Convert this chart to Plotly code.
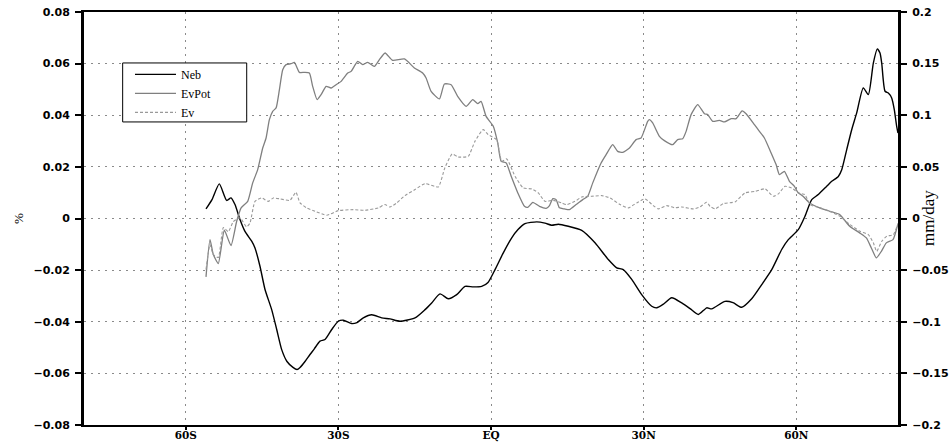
import plotly.graph_objects as go

# ---- data (latitude in degrees, negative = south) ----
neb_lat = [-56.02, -54.84, -53.41, -51.95, -51.11, -50.32, -49.34, -48.36, -47.04, -46.39,
           -45.41, -44.42, -43.11, -42.12, -41.14, -40.1, -38.92, -38.13, -37.54, -36.56,
           -35.58, -34.73, -33.61, -32.63, -31.31, -30.01, -29.03, -27.38, -26.34, -25.1,
           -23.45, -21.48, -19.85, -17.89, -14.94, -12.97, -11.66, -10.02, -8.39, -6.74,
           -5.11, -3.48, -1.83, -0.59, 0.79, 2.42, 4.07, 5.31, 6.68, 8.98,
           10.61, 11.93, 13.23, 15.19, 17.83, 20.44, 23.06, 24.71, 26.0, 27.66,
           29.62, 31.59, 32.57, 33.81, 35.52, 37.49, 39.12, 40.75, 42.4, 43.38,
           46.0, 47.57, 49.28, 51.24, 53.21, 55.18, 57.14, 58.44, 60.4, 61.72,
           63.04, 64.33, 65.99, 66.97, 68.27, 68.94, 69.92, 70.9, 71.88, 73.18,
           74.17, 75.15, 75.93, 76.46, 76.8, 77.45, 78.1, 78.76, 79.27, 79.74, 80.0]
neb_val = [0.0037, 0.0073, 0.0134, 0.0070, 0.0080, 0.0054, -0.0004, -0.0050, -0.0088, -0.0114,
           -0.0185, -0.0275, -0.0353, -0.0430, -0.0508, -0.0554, -0.0577, -0.0585, -0.0577, -0.0554,
           -0.0527, -0.0505, -0.0475, -0.0469, -0.0430, -0.0398, -0.0394, -0.0407, -0.0403, -0.0385,
           -0.0373, -0.0385, -0.0389, -0.0398, -0.0385, -0.0353, -0.0327, -0.0292, -0.0311, -0.0295,
           -0.0263, -0.0265, -0.0263, -0.0248, -0.0198, -0.0133, -0.0075, -0.0043, -0.0020, -0.0013,
           -0.0018, -0.0026, -0.0022, -0.0030, -0.0046, -0.0094, -0.0159, -0.0191, -0.0198, -0.0236,
           -0.0295, -0.0340, -0.0346, -0.0333, -0.0307, -0.0327, -0.0349, -0.0372, -0.0346, -0.0350,
           -0.0321, -0.0326, -0.0344, -0.0311, -0.0256, -0.0198, -0.0120, -0.0082, -0.0043, 0.0009,
           0.0073, 0.0093, 0.0125, 0.0144, 0.0163, 0.0189, 0.0267, 0.0344, 0.0409, 0.0506,
           0.0480, 0.0602, 0.0657, 0.0641, 0.0602, 0.0493, 0.0486, 0.0467, 0.0422, 0.0357, 0.0331]

evpot_lat = [-56.02, -55.23, -54.58, -53.6, -52.42, -51.11, -49.99, -49.12, -47.82, -46.84,
             -45.86, -44.87, -44.21, -43.56, -42.91, -42.24, -41.59, -40.94, -40.28, -39.29,
             -38.64, -37.66, -36.68, -35.7, -35.05, -34.18, -33.4, -32.41, -31.43, -30.45,
             -29.47, -28.17, -27.5, -26.2, -25.22, -24.24, -22.92, -21.94, -20.82, -19.32,
             -17.02, -15.06, -13.43, -12.76, -11.77, -10.14, -9.16, -7.84, -6.55, -4.89,
             -3.6, -2.61, -1.95, -0.96, 0.45, 1.32, 2.0, 2.99, 3.97, 5.27,
             6.58, 7.23, 8.22, 9.53, 10.85, 11.5, 12.15, 12.8, 13.45, 14.43,
             15.41, 16.73, 18.03, 19.01, 20.0, 21.64, 22.63, 23.92, 24.9, 25.89,
             27.22, 28.52, 29.5, 30.8, 31.14, 31.78, 33.1, 34.08, 35.71, 36.7,
             37.68, 38.35, 39.33, 40.63, 41.95, 42.6, 43.58, 44.89, 45.88, 47.2,
             48.18, 49.36, 50.14, 51.78, 52.76, 53.74, 55.06, 56.04, 56.69, 57.67,
             58.66, 59.64, 60.29, 61.33, 62.64, 64.6, 66.57, 68.53, 70.5, 72.46,
             73.78, 74.76, 75.74, 76.73, 77.71, 79.01, 80.0]
evpot_val = [-0.0565, -0.0204, -0.0349, -0.0436, -0.0114, -0.0262, -0.0027, 0.0103, 0.0166, 0.0345,
             0.0473, 0.0683, 0.0780, 0.0957, 0.1038, 0.1071, 0.1248, 0.1441, 0.1490, 0.1499,
             0.1512, 0.1415, 0.1415, 0.1409, 0.1280, 0.1151, 0.1199, 0.1280, 0.1264, 0.1296,
             0.1328, 0.1409, 0.1425, 0.1522, 0.1490, 0.1512, 0.1473, 0.1538, 0.1603, 0.1531,
             0.1545, 0.1458, 0.1409, 0.1361, 0.1231, 0.1158, 0.1303, 0.1296, 0.1183, 0.1086,
             0.1151, 0.1112, 0.1135, 0.0989, 0.0893, 0.0732, 0.0554, 0.0538, 0.0409, 0.0248,
             0.0118, 0.0108, 0.0157, 0.0118, 0.0099, 0.0125, 0.0193, 0.0183, 0.0103, 0.0093,
             0.0086, 0.0135, 0.0183, 0.0215, 0.0345, 0.0538, 0.0619, 0.0716, 0.0650, 0.0641,
             0.0683, 0.0764, 0.0780, 0.0941, 0.0957, 0.0925, 0.0796, 0.0754, 0.0715, 0.0764,
             0.0773, 0.0844, 0.1006, 0.1103, 0.1015, 0.1006, 0.0941, 0.0951, 0.0935, 0.0967,
             0.0967, 0.1042, 0.1015, 0.0909, 0.0844, 0.0780, 0.0635, 0.0522, 0.0425, 0.0457,
             0.0360, 0.0312, 0.0254, 0.0215, 0.0151, 0.0103, 0.0070, 0.0038, -0.0075, -0.0139,
             -0.0188, -0.0285, -0.0381, -0.0318, -0.0236, -0.0204, -0.0049]

ev_lat = [-56.02, -55.23, -54.58, -53.6, -52.61, -51.63, -50.65, -49.34, -48.03, -47.37,
          -46.39, -45.08, -43.78, -42.79, -41.49, -39.52, -38.34, -37.54, -36.23, -34.59,
          -32.29, -30.01, -27.07, -24.77, -22.15, -20.85, -19.85, -18.53, -16.9, -14.94,
          -12.97, -10.36, -9.08, -7.63, -6.45, -4.48, -3.16, -1.53, -0.55, 1.1,
          2.1, 3.09, 4.72, 6.35, 8.0, 9.3, 10.61, 12.24, 13.89, 14.88,
          16.51, 17.83, 19.79, 21.76, 23.39, 25.36, 26.99, 28.64, 30.27, 31.9,
          32.89, 34.54, 36.17, 37.49, 39.77, 41.08, 42.4, 43.05, 44.03, 45.67,
          47.97, 49.93, 51.9, 53.86, 55.49, 56.48, 57.79, 59.11, 60.41, 61.72,
          62.7, 64.67, 66.63, 68.6, 70.57, 72.53, 74.17, 75.15, 75.82, 76.8,
          77.79, 79.09, 80.0]
ev_val = [-0.0495, -0.0253, -0.0350, -0.0378, -0.0088, -0.0127, -0.0030, 0.0006, -0.0081, -0.0043,
          0.0166, 0.0199, 0.0166, 0.0199, 0.0190, 0.0176, 0.0254, 0.0151, 0.0103, 0.0070,
          0.0031, 0.0076, 0.0086, 0.0079, 0.0103, 0.0135, 0.0112, 0.0151, 0.0222, 0.0280,
          0.0338, 0.0306, 0.0490, 0.0625, 0.0596, 0.0602, 0.0747, 0.0861, 0.0812, 0.0764,
          0.0554, 0.0577, 0.0409, 0.0296, 0.0287, 0.0248, 0.0166, 0.0176, 0.0151, 0.0135,
          0.0166, 0.0209, 0.0215, 0.0222, 0.0199, 0.0135, 0.0103, 0.0151, 0.0190, 0.0125,
          0.0093, 0.0125, 0.0103, 0.0112, 0.0093, 0.0112, 0.0157, 0.0118, 0.0093, 0.0144,
          0.0161, 0.0248, 0.0263, 0.0287, 0.0215, 0.0238, 0.0312, 0.0296, 0.0248, 0.0231,
          0.0135, 0.0103, 0.0070, 0.0021, -0.0059, -0.0124, -0.0156, -0.0236, -0.0318, -0.0221,
          -0.0172, -0.0156, -0.0049]

x_tick_vals = [-60, -30, 0, 30, 60]
x_tick_text = ["60S", "30S", "EQ", "30N", "60N"]
left_ticks = [-0.08, -0.06, -0.04, -0.02, 0, 0.02, 0.04, 0.06, 0.08]
right_ticks = [-0.2, -0.15, -0.1, -0.05, 0, 0.05, 0.1, 0.15, 0.2]

GRID = "#8a8a8a"
TICKFONT = dict(family="DejaVu Sans", size=11, color="black", weight="bold")

fig = go.Figure()
fig.add_trace(go.Scatter(x=neb_lat, y=neb_val, name="Neb", mode="lines",
                         line=dict(color="black", width=1.4, shape="spline", smoothing=0.6),
                         yaxis="y"))
fig.add_trace(go.Scatter(x=evpot_lat, y=evpot_val, name="EvPot", mode="lines",
                         line=dict(color="#7f7f7f", width=1.3, shape="spline", smoothing=0.5),
                         yaxis="y2"))
fig.add_trace(go.Scatter(x=ev_lat, y=ev_val, name="Ev", mode="lines",
                         line=dict(color="#999999", width=1.1, dash="3px,2px", shape="spline", smoothing=0.5),
                         yaxis="y2"))

fig.update_layout(
    width=950, height=442,
    margin=dict(l=84, r=52, t=12, b=17, autoexpand=False),
    plot_bgcolor="white", paper_bgcolor="white",
    showlegend=True,
    legend=dict(x=0.0565, y=0.884, xanchor="left", yanchor="top",
                bgcolor="rgba(0,0,0,0)", borderwidth=0,
                itemwidth=41, tracegroupgap=0,
                font=dict(family="Liberation Serif", size=12, color="black")),
    # white framed box behind the legend
    shapes=[dict(type="rect", xref="paper", yref="paper",
                 x0=0.0475, x1=0.1999, y0=0.7338, y1=0.8766,
                 fillcolor="white", line=dict(color="black", width=1), layer="above")],
    xaxis=dict(range=[-80, 80], tickvals=x_tick_vals, ticktext=x_tick_text, automargin=False,
               showgrid=True, gridcolor=GRID, griddash="2px,5px", gridwidth=1,
               zeroline=False, showline=True, linecolor="black", linewidth=2, mirror=True,
               ticks="outside", ticklen=3, tickwidth=1.5, tickcolor="black",
               ticklabelstandoff=-4,
               tickfont=dict(family="DejaVu Serif", size=10.5, color="black", weight="bold")),
    yaxis=dict(range=[-0.08, 0.08], tickvals=left_ticks, automargin=False,
               showgrid=True, gridcolor=GRID, griddash="2px,5px", gridwidth=1,
               zeroline=False, showline=True, linecolor="black", linewidth=3,
               ticks="outside", ticklen=6, tickwidth=1.5, tickcolor="black",
               ticklabelstandoff=3, tickfont=TICKFONT),
    yaxis2=dict(range=[-0.2, 0.2], tickvals=right_ticks, overlaying="y", side="right",
                automargin=False,
                showgrid=False, zeroline=False, showline=True, linecolor="black", linewidth=3,
                ticks="outside", ticklen=6, tickwidth=1.5, tickcolor="black",
                ticklabelstandoff=3, tickfont=TICKFONT),
    annotations=[
        dict(text="%", xref="paper", yref="paper", x=0, y=0.5, xshift=-75,
             textangle=-90, showarrow=False,
             font=dict(family="Liberation Serif", size=13, color="black")),
        dict(text="mm/day", xref="paper", yref="paper", x=1, y=0.5, xshift=42,
             textangle=-90, showarrow=False,
             font=dict(family="Liberation Serif", size=17, color="black")),
    ],
)

fig.write_html("out.html", config={"displayModeBar": False},
               post_script="document.body.style.margin='0';")
